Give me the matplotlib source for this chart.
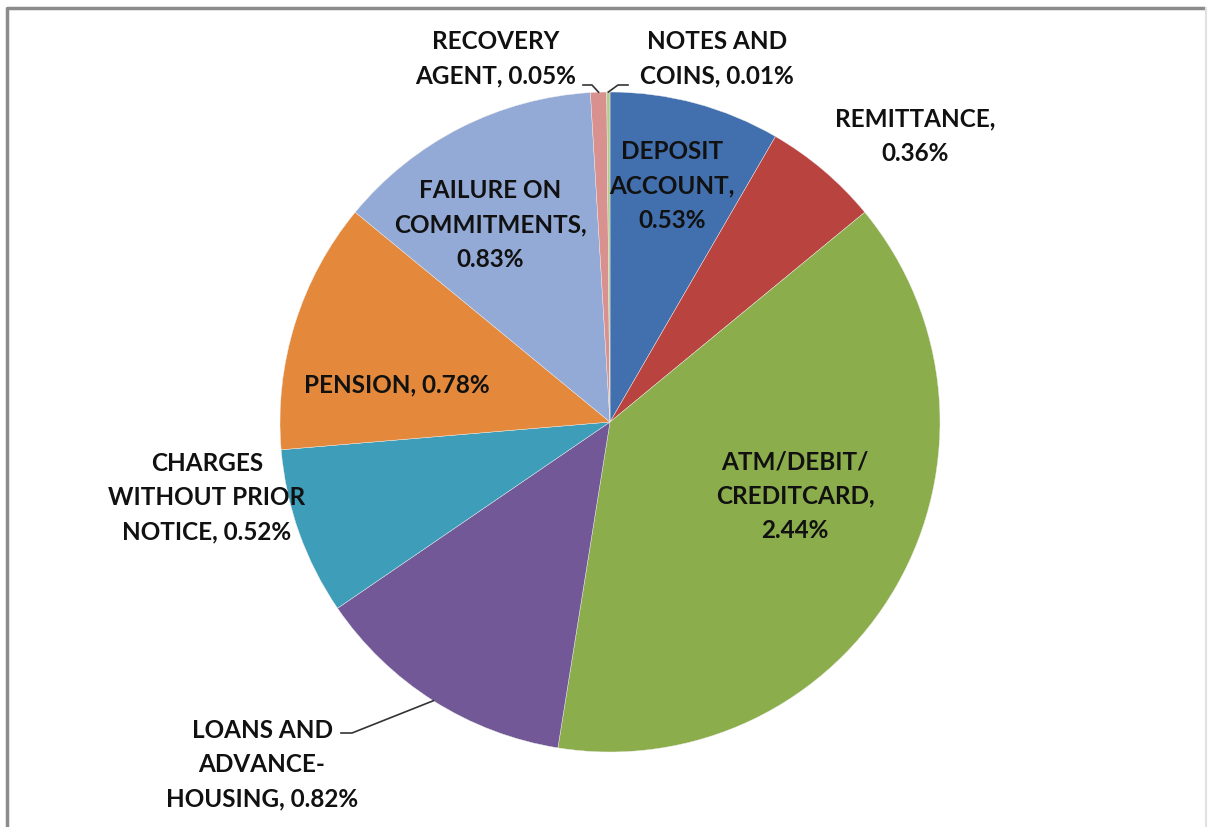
import matplotlib
matplotlib.use("Agg")
import matplotlib.pyplot as plt
import numpy as np

categories = ["DEPOSIT\nACCOUNT", "REMITTANCE", "ATM/DEBIT/\nCREDITCARD", "LOANS AND\nADVANCE-\nHOUSING",
              "CHARGES\nWITHOUT PRIOR\nNOTICE", "PENSION", "FAILURE ON\nCOMMITMENTS", "RECOVERY\nAGENT",
              "NOTES AND\nCOINS"]
values = [0.53, 0.36, 2.44, 0.82, 0.52, 0.78, 0.83, 0.05, 0.01]
colors = ["#4270AE", "#B8433F", "#8CAD4C", "#725896", "#3E9DB9", "#E4883B", "#93AAD6", "#D8918F", "#B6CC8E"]
break_after_name = [True, True, True, False, False, False, True, False, False]

W, H = 1209, 828
fig = plt.figure(figsize=(W / 100, H / 100), dpi=100)
ax = fig.add_axes([0, 0, 1, 1])

cx, cy, R = 610, H - 423, 330
ax.pie(values, colors=colors, startangle=90, counterclock=False, radius=R, center=(cx, cy),
       frame=True, wedgeprops=dict(linewidth=0.3, edgecolor="#eeeeee"))
ax.set_xlim(0, W)
ax.set_ylim(0, H)
ax.set_aspect("equal")
ax.axis("off")

# chart frame
ax.plot([7, 7, 1205], [-5, H - 9, H - 9], color="#8c8c8c", lw=2.5, solid_capstyle="butt")
ax.plot([1206, 1206], [H - 9, -5], color="#e2e2e2", lw=1.5)

font = dict(family=["Lato", "DejaVu Sans"], fontsize=17.5, fontweight="bold", color="#111111",
            ha="center", va="center", linespacing=1.58)

# label positions (pixel coords: x, y from top)
label_pos = [(672, 186), (915, 136), (795, 496), (262, 765), (207, 498), (397, 385), (490, 225),
             (496, 59), (717, 59)]

total = sum(values)
cum = np.cumsum([0] + values)
for i, (name, v) in enumerate(zip(categories, values)):
    sep = ",\n" if break_after_name[i] else ", "
    txt = f"{name}{sep}{v:.2f}%"
    x, y = label_pos[i]
    ax.text(x, H - y, txt, **font)

# leader lines from labels to slice midpoints on the rim
def rim(i):
    mid = (cum[i] + values[i] / 2) / total * 2 * np.pi
    return cx + R * np.sin(mid), cy + R * np.cos(mid)

leaders = {7: [(583, 86), (592, 86)], 8: [(628, 86), (618, 86)], 3: [(341, 734), (352, 734)]}
for i, pts in leaders.items():
    rx, ry = rim(i)
    xs = [p[0] for p in pts] + [rx]
    ys = [H - p[1] for p in pts] + [ry]
    ax.plot(xs, ys, color="#333333", lw=1.2)

fig.savefig("out.png", dpi=100)
